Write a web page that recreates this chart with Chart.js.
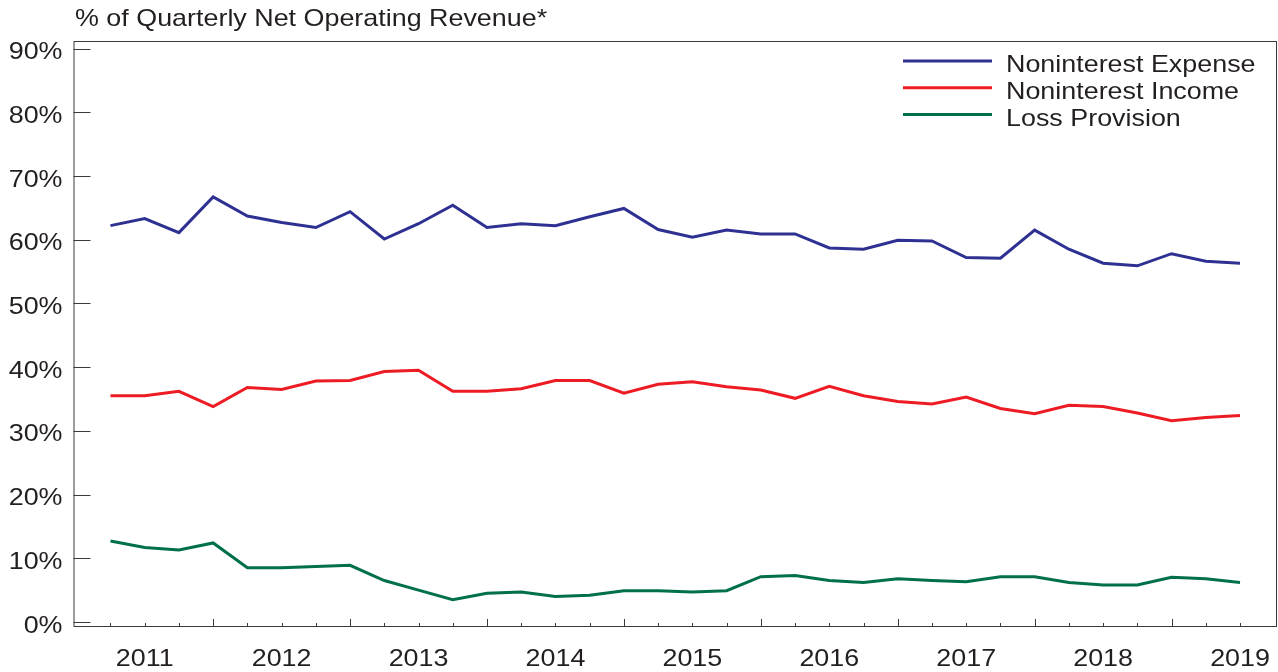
<!DOCTYPE html>
<html>
<head>
<meta charset="utf-8">
<script src="https://cdn.jsdelivr.net/npm/chart.js@4"></script>
<style>
  html, body { margin: 0; padding: 0; background: #fff; }
  canvas { display: block; }
</style>
</head>
<body>
<canvas id="chart" width="1278" height="672"></canvas>
<script>
// ── DATA ───────────────────────────────────────
const quarters = [
  '2011Q1','2011Q2','2011Q3','2011Q4','2012Q1','2012Q2','2012Q3','2012Q4',
  '2013Q1','2013Q2','2013Q3','2013Q4','2014Q1','2014Q2','2014Q3','2014Q4',
  '2015Q1','2015Q2','2015Q3','2015Q4','2016Q1','2016Q2','2016Q3','2016Q4',
  '2017Q1','2017Q2','2017Q3','2017Q4','2018Q1','2018Q2','2018Q3','2018Q4',
  '2019Q1','2019Q2'
];
const years = ['2011','2012','2013','2014','2015','2016','2017','2018','2019'];
const yTicks = [0, 10, 20, 30, 40, 50, 60, 70, 80, 90];

const expense = [62.2, 63.3, 61.1, 66.7, 63.7, 62.7, 61.9, 64.4, 60.1, 62.5, 65.4, 61.9,
                 62.5, 62.2, 63.6, 64.9, 61.6, 60.4, 61.5, 60.9, 60.9, 58.7, 58.5, 59.9,
                 59.8, 57.2, 57.1, 61.5, 58.5, 56.3, 55.9, 57.8, 56.6, 56.3];
const income  = [35.5, 35.5, 36.2, 33.8, 36.8, 36.5, 37.8, 37.9, 39.3, 39.5, 36.2, 36.2,
                 36.6, 37.9, 37.9, 35.9, 37.3, 37.7, 36.9, 36.4, 35.1, 37.0, 35.5, 34.6,
                 34.2, 35.3, 33.5, 32.7, 34.0, 33.8, 32.8, 31.6, 32.1, 32.4];
const provision = [12.7, 11.7, 11.3, 12.4, 8.5, 8.5, 8.7, 8.9, 6.5, 5.0, 3.5, 4.5,
                   4.7, 4.0, 4.2, 4.9, 4.9, 4.7, 4.9, 7.1, 7.3, 6.5, 6.2, 6.8,
                   6.5, 6.3, 7.1, 7.1, 6.2, 5.8, 5.8, 7.0, 6.8, 6.2];

const seriesNames = ['Noninterest Expense', 'Noninterest Income', 'Loss Provision'];
const title = '% of Quarterly Net Operating Revenue*';

// ── STYLE ──────────────────────────────────────
const COLORS = ['#2e3192', '#ed1c24', '#00704a'];
const INK    = '#231f20';
const FONT   = '24px "Liberation Sans", Arial, sans-serif';
const SX     = 1.12;   // horizontal stretch of the original lettering

const pts = arr => arr.map((v, i) => ({ x: i, y: v }));

// text with the slightly wide lettering of the source
function txt(ctx, s, x, y, align) {
  ctx.save();
  ctx.translate(x, y);
  ctx.scale(SX, 1);
  ctx.textAlign = align;
  ctx.textBaseline = 'middle';
  ctx.fillText(s, 0, 0);
  ctx.restore();
}

// ── FRAME, TICKS, LABELS, LEGEND ─────────────
const framePlugin = {
  id: 'frame',
  afterDraw(chart) {
    const { ctx, chartArea: { top, bottom, left, right }, scales: { x, y } } = chart;
    ctx.save();
    ctx.strokeStyle = '#3a3a3a';
    ctx.lineWidth = 1;
    ctx.strokeRect(left + 0.5, top + 0.5, right - left - 1, bottom - top - 1);

    // y ticks (inside)
    ctx.beginPath();
    yTicks.forEach(t => {
      const py = Math.round(y.getPixelForValue(t)) + 0.5;
      ctx.moveTo(left, py); ctx.lineTo(left + 17, py);
    });
    // x ticks (inside, longer at year end)
    quarters.forEach((q, i) => {
      const px = Math.round(x.getPixelForValue(i)) + 0.5;
      const len = q.endsWith('Q4') ? 8 : 4;
      ctx.moveTo(px, bottom); ctx.lineTo(px, bottom - len);
    });
    ctx.stroke();

    ctx.fillStyle = INK;
    ctx.font = FONT;
    yTicks.forEach(t => txt(ctx, t + '%', left - 11, y.getPixelForValue(t) + 4, 'right'));
    years.forEach(yr => {
      const i = quarters.indexOf(yr + 'Q2');
      txt(ctx, yr, x.getPixelForValue(i), 659, 'center');
    });
    txt(ctx, title, 75, 19, 'left');

    // legend
    chart.data.datasets.forEach((ds, k) => {
      const ly = 61 + k * 26.7;
      ctx.beginPath();
      ctx.strokeStyle = ds.borderColor;
      ctx.lineWidth = 3;
      ctx.moveTo(903, ly); ctx.lineTo(992, ly);
      ctx.stroke();
      ctx.fillStyle = INK;
      txt(ctx, ds.label, 1006, ly + 4.5, 'left');
    });
    ctx.restore();
  }
};

new Chart(document.getElementById('chart'), {
  type: 'line',
  data: {
    datasets: [expense, income, provision].map((arr, k) => ({
      label: seriesNames[k],
      data: pts(arr),
      borderColor: COLORS[k],
      borderWidth: 3,
      pointRadius: 0,
      tension: 0
    }))
  },
  options: {
    responsive: false,
    animation: false,
    layout: { padding: { left: 73.5, top: 41, right: 1, bottom: 45 } },
    plugins: { legend: { display: false }, tooltip: { enabled: false } },
    scales: {
      x: { type: 'linear', display: false, min: -1.08, max: 34.08 },
      y: { display: false, min: -0.79, max: 91.18 }
    }
  },
  plugins: [framePlugin]
});
</script>
</body>
</html>
